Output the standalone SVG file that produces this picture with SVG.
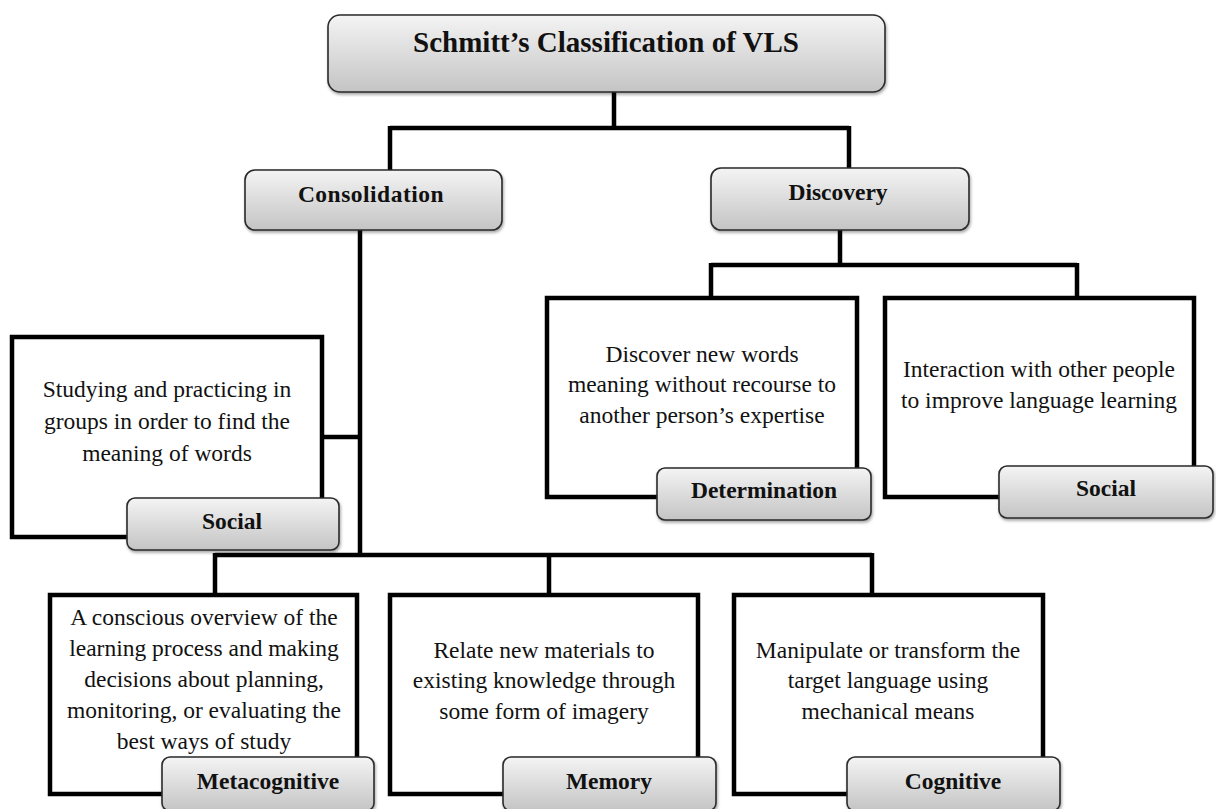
<svg xmlns="http://www.w3.org/2000/svg" width="1216" height="809" viewBox="0 0 1216 809">
<style>
.box{fill:#fff;stroke:#000;stroke-width:4.5}
.tag{fill:url(#g);stroke:#2a2a2a;stroke-width:1.6}
.ln{fill:none;stroke:#000;stroke-width:4.5;stroke-linejoin:miter}
.t{font-family:"Liberation Serif","Times New Roman",serif;font-size:23.5px;fill:#111;text-anchor:middle}
.b{font-family:"Liberation Serif","Times New Roman",serif;font-weight:bold;font-size:23.5px;fill:#111;text-anchor:middle}
</style>
<defs>
<linearGradient id="g" x1="0" y1="0" x2="0" y2="1">
<stop offset="0" stop-color="#f4f4f4"/>
<stop offset="1" stop-color="#c4c4c4"/>
</linearGradient>
<filter id="sh" x="-10%" y="-10%" width="120%" height="130%">
<feDropShadow dx="1" dy="2" stdDeviation="1.5" flood-color="#000" flood-opacity="0.35"/>
</filter>
</defs>
<g id="connectors">
<path class="ln" d="M614 92V128M390 128H849M390 126V170M849 126V168"/>
<path class="ln" d="M360 230V555M322 437H362M215 555H872M215 553V595M549 553V595M872 553V595"/>
<path class="ln" d="M840 230V265M711 265H1077M711 263V298M1077 263V298"/>
</g>
<g id="title">
<rect class="tag" x="328" y="15" width="557" height="77" rx="12" filter="url(#sh)"/>
<text class="b" x="606" y="52" style="font-size:29px">Schmitt’s Classification of VLS</text>
</g>
<g id="consolidation">
<rect class="tag" x="245" y="170" width="257" height="60" rx="10" filter="url(#sh)"/>
<text class="b" x="371" y="202" style="letter-spacing:0.5px">Consolidation</text>
</g>
<g id="discovery">
<rect class="tag" x="711" y="168" width="258" height="62" rx="10" filter="url(#sh)"/>
<text class="b" x="838" y="200">Discovery</text>
</g>
<g id="social-consolidation">
<rect class="box" x="12" y="337" width="310" height="200"/>
<text class="t" x="167" y="397">Studying and practicing in</text>
<text class="t" x="167" y="429">groups in order to find the</text>
<text class="t" x="167" y="461">meaning of words</text>
<rect class="tag" x="127" y="498" width="212" height="52" rx="8" filter="url(#sh)"/>
<text class="b" x="232" y="529">Social</text>
</g>
<g id="determination">
<rect class="box" x="547" y="298" width="310" height="199"/>
<text class="t" x="702" y="362">Discover new words</text>
<text class="t" x="702" y="392">meaning without recourse to</text>
<text class="t" x="702" y="423">another person’s expertise</text>
<rect class="tag" x="657" y="468" width="214" height="52" rx="8" filter="url(#sh)"/>
<text class="b" x="764" y="498">Determination</text>
</g>
<g id="social-discovery">
<rect class="box" x="885" y="298" width="309" height="199"/>
<text class="t" x="1039" y="377">Interaction with other people</text>
<text class="t" x="1039" y="408">to improve language learning</text>
<rect class="tag" x="999" y="466" width="214" height="52" rx="8" filter="url(#sh)"/>
<text class="b" x="1106" y="496">Social</text>
</g>
<g id="metacognitive">
<rect class="box" x="50" y="595" width="307" height="199"/>
<text class="t" x="204" y="625">A conscious overview of the</text>
<text class="t" x="204" y="656">learning process and making</text>
<text class="t" x="204" y="687">decisions about planning,</text>
<text class="t" x="204" y="718">monitoring, or evaluating the</text>
<text class="t" x="204" y="749">best ways of study</text>
<rect class="tag" x="162" y="757" width="212" height="54" rx="8" filter="url(#sh)"/>
<text class="b" x="268" y="789">Metacognitive</text>
</g>
<g id="memory">
<rect class="box" x="390" y="595" width="308" height="199"/>
<text class="t" x="544" y="658">Relate new materials to</text>
<text class="t" x="544" y="688">existing knowledge through</text>
<text class="t" x="544" y="719">some form of imagery</text>
<rect class="tag" x="503" y="757" width="213" height="54" rx="8" filter="url(#sh)"/>
<text class="b" x="609" y="789">Memory</text>
</g>
<g id="cognitive">
<rect class="box" x="734" y="595" width="309" height="199"/>
<text class="t" x="888" y="658">Manipulate or transform the</text>
<text class="t" x="888" y="688">target language using</text>
<text class="t" x="888" y="719">mechanical means</text>
<rect class="tag" x="847" y="757" width="213" height="54" rx="8" filter="url(#sh)"/>
<text class="b" x="953" y="789">Cognitive</text>
</g>
</svg>
